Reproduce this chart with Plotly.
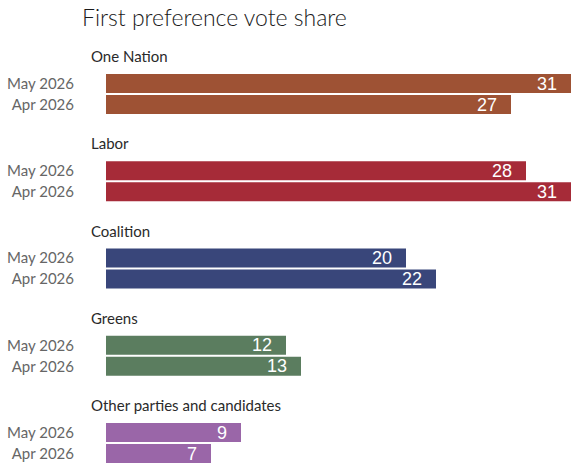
import plotly.graph_objects as go

parties = ["One Nation", "Labor", "Coalition", "Greens", "Other parties and candidates"]
periods = ["May 2026", "Apr 2026"]
may_2026 = [31, 28, 20, 12, 9]
apr_2026 = [27, 31, 22, 13, 7]
colors = ["#9E5234", "#A62B38", "#39467A", "#5B7D5F", "#9A66A8"]

W, H = 571, 466
LEFT = 106
# layout geometry (pixels, y axis reversed so units = pixels)
first_center = 83.5
group_step = 87.25
bar_step = 21
bar_thick = 19
label_offset = 27.5

fig = go.Figure()
tickvals, ticktext = [], []
annotations = []
for g, party in enumerate(parties):
    base = first_center + g * group_step
    vals = [may_2026[g], apr_2026[g]]
    ys = [base + j * bar_step for j in range(2)]
    fig.add_trace(go.Bar(
        x=vals, y=ys, orientation="h", width=bar_thick,
        marker=dict(color=colors[g], line=dict(width=0)),
        showlegend=False, hoverinfo="skip",
    ))
    for j in range(2):
        tickvals.append(ys[j])
        ticktext.append(periods[j])
        annotations.append(dict(
            x=vals[j], y=ys[j], xref="x", yref="y", text=str(vals[j]),
            xanchor="right", yanchor="middle", xshift=-12, showarrow=False,
            font=dict(family="Liberation Sans, Arial", size=18, color="white"),
        ))
    annotations.append(dict(
        x=(89 - LEFT) / (W - LEFT), y=base - label_offset, xref="paper", yref="y",
        text=party, xanchor="left", yanchor="middle", showarrow=False,
        font=dict(family="Lato, Open Sans", size=15, color="#2a2a2a", weight=400),
    ))

fig.update_layout(
    width=W, height=H,
    margin=dict(l=LEFT, r=0, t=0, b=0),
    paper_bgcolor="white", plot_bgcolor="white",
    barmode="overlay",
    title=dict(text="First preference vote share", x=82 / W, xanchor="left",
               y=1 - 18 / H, yanchor="middle", xref="container", yref="container",
               font=dict(family="Lato, Open Sans", size=23, color="#1a1a1a", weight=300)),
    xaxis=dict(range=[0, 31], visible=False, fixedrange=True),
    yaxis=dict(range=[H, 0], tickvals=tickvals, ticktext=ticktext,
               showgrid=False, zeroline=False, showline=False, ticks="",
               ticklabelstandoff=31,
               tickfont=dict(family="Lato, Open Sans", size=15, color="#666666", weight=400)),
    annotations=annotations,
)

fig.write_html("out.html")
